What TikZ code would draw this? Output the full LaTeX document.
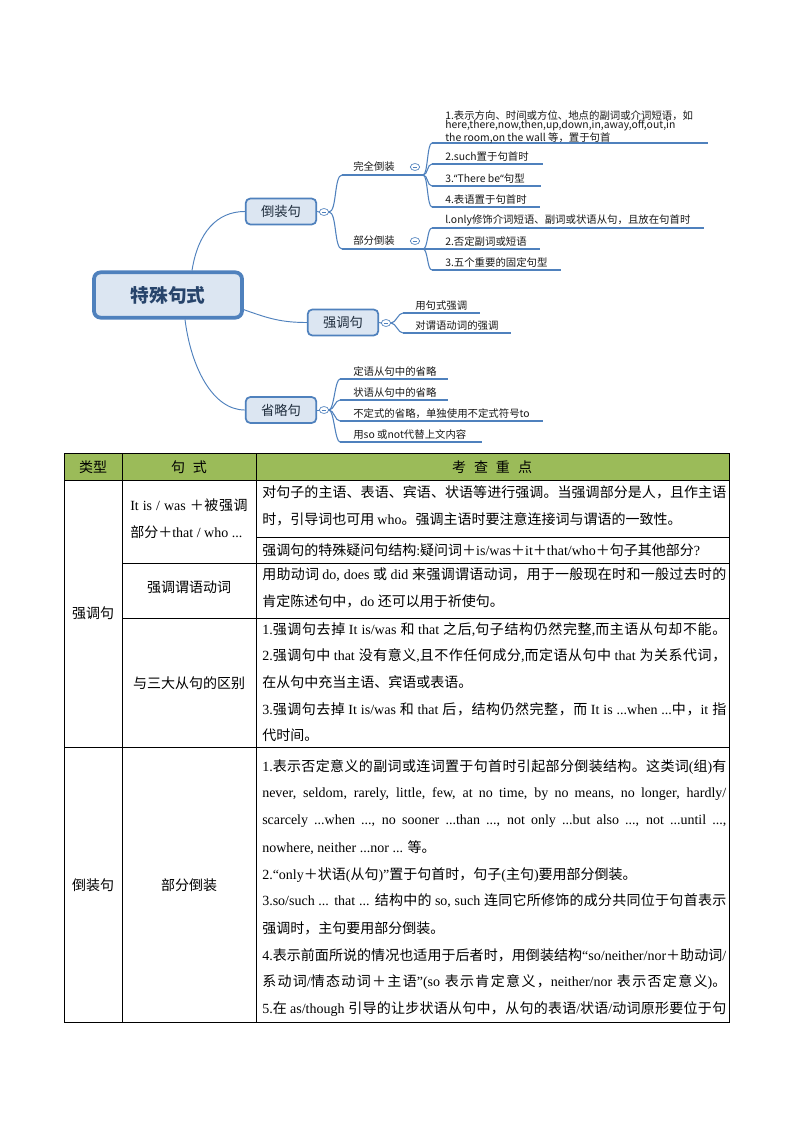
\documentclass[tikz,border=0pt]{standalone}
\usepackage{fontspec}
\setmainfont{Liberation Serif}
\newfontfamily\cjk{Noto Sans CJK SC}
\newfontfamily\lat{Liberation Serif}
\newfontfamily\mmfont{Noto Sans CJK SC}
\newfontfamily\mmlat{Noto Sans}
\usetikzlibrary{shapes.geometric}

% character classes for automatic CJK / Latin font switching
\newcount\cjkc
\def\setcjkrange#1#2#3{\cjkc=#1\relax\loop\XeTeXcharclass\cjkc=#3\relax\advance\cjkc by 1\relax\ifnum\cjkc<#2\relax\repeat}
\setcjkrange{"4E00}{"A000}{1}
\setcjkrange{"3000}{"3040}{1}
\setcjkrange{"FF00}{"FFF0}{1}
\setcjkrange{"2010}{"2030}{0}
\XeTeXinterchartoks 0 1 = {\cjk}
\XeTeXinterchartoks 4095 1 = {\cjk}
\XeTeXinterchartoks 2 1 = {\cjk}
\XeTeXinterchartoks 3 1 = {\cjk}
\XeTeXinterchartoks 1 1 = {\hskip 0pt plus 1.5pt\relax}
\XeTeXinterchartoks 1 0 = {\lat}
\XeTeXinterchartoks 4095 0 = {\lat}
\XeTeXinterchartoks 2 0 = {\lat}
\XeTeXinterchartoks 3 0 = {\lat}

\definecolor{mmblue}{HTML}{4F81BD}
\definecolor{mmfill}{HTML}{DCE6F2}
\definecolor{roottext}{HTML}{27446B}
\definecolor{boxtext}{HTML}{1F2D3D}
\definecolor{hdr}{HTML}{9BBB59}

\def\tbfont{\XeTeXinterchartokenstate=1 \lat\fontsize{10.5}{13}\selectfont}
\def\mmsmall{\XeTeXinterchartokenstate=0 \mmfont\fontsize{7.8}{7.2}\selectfont}
\def\rootfont{\XeTeXinterchartokenstate=0 \mmfont\bfseries\fontsize{14}{16}\selectfont}
\def\boxfont{\XeTeXinterchartokenstate=0 \mmfont\fontsize{10}{12}\selectfont}
\newcommand\jl[1]{\makebox[348pt][s]{#1}}

\tikzset{
  rootbox/.style={draw=mmblue, line width=2.8pt, fill=mmfill, rounded corners=5pt,
    minimum width=111pt, minimum height=34pt, inner sep=0pt, text=roottext,
    font=\rootfont},
  box/.style={draw=mmblue, line width=1.3pt, fill=mmfill, rounded corners=3.5pt,
    minimum width=53pt, minimum height=19.5pt, inner sep=0pt, text=boxtext,
    font=\boxfont},
  tog/.style={ellipse, draw=mmblue, line width=0.5pt, fill=white, minimum width=7pt,
    minimum height=5.2pt, inner sep=0pt,
    path picture={\draw[mmblue, line width=0.4pt] ([xshift=-1.7pt]path picture bounding box.center) -- ([xshift=1.7pt]path picture bounding box.center);}},
  conn/.style={draw=mmblue, line width=0.7pt},
  fork/.style={draw=mmblue, line width=0.8pt},
  ul/.style={draw=mmblue, line width=1.2pt},
  mmtxt/.style={anchor=west, inner sep=0pt, font=\mmsmall, text=black!90},
  tb/.style={anchor=west, inner sep=0pt, font=\tbfont, text=black},
  tbc/.style={anchor=center, inner sep=0pt, font=\tbfont, text=black},
  grid/.style={draw=black, line width=0.7pt}
}

\newcommand\mmitem[7]{%
  \coordinate (#1s) at (#3,#5);
  \coordinate (#1e) at (#4,#5);
  \draw[fork] (#2) .. controls +(5,0) and +(-5,0) .. (#1s);
  \draw[ul] (#1s) -- (#1e);
  \node[mmtxt] (#1) at (#6,#5-7.5) {#7};}

\begin{document}
\begin{tikzpicture}[x=0.75pt,y=-0.75pt]
\useasboundingbox (0,0) rectangle (794,1123);
\fill[white] (0,0) rectangle (794,1123);

% ---------------- mind map ----------------
\node[rootbox] (r) at (168,295) {特殊句式};
\node[box] (b1) at (281,211.5) {倒装句};
\node[box] (b2) at (343,322.5) {强调句};
\node[box] (b3) at (281,410) {省略句};

\draw[conn] ([xshift=18pt]r.north) .. controls +(6,-38) and +(-28,0) .. (b1.west);
\draw[conn] ([yshift=-11pt]r.east) .. controls +(25,9) and +(-25,0) .. (b2.west);
\draw[conn] ([xshift=12.75pt]r.south) .. controls +(6,48) and +(-32,0) .. (b3.west);

\node[tog] (t1) at (324,212) {};
\node[tog] (t2) at (386,323) {};
\node[tog] (t3) at (324,410) {};
\draw[conn] (b1.east) -- (t1.west);
\draw[conn] (b2.east) -- (t2.west);
\draw[conn] (b3.east) -- (t3.west);

% 倒装句 branch
\coordinate (f1a) at (342,175);
\coordinate (f1b) at (342,249);
\coordinate (k1) at (423,175);
\coordinate (k2) at (423,249);
\draw[fork] (t1.east) .. controls +(8,0) and +(-8,0) .. (f1a);
\draw[fork] (t1.east) .. controls +(8,0) and +(-8,0) .. (f1b);
\draw[ul] (f1a) -- (k1);
\draw[ul] (f1b) -- (k2);
\node[mmtxt] (l1) at (353,167) {完全倒装};
\node[mmtxt] (l2) at (353,241) {部分倒装};
\node[tog] (t4) at (415,167) {};
\node[tog] (t5) at (415,241) {};

% 完全倒装 items
\coordinate (i1s) at (432,143);
\coordinate (i1e) at (708,143);
\draw[fork] (k1) .. controls +(5,0) and +(-5,0) .. (i1s);
\draw[ul] (i1s) -- (i1e);
\node[mmtxt, align=left] (i1) at (445,127) {1.表示方向、时间或方位、地点的副词或介词短语，如\\here,there,now,then,up,down,in,away,off,out,in\\the room,on the wall 等，置于句首};
\mmitem{i2}{k1}{432}{543}{164}{445}{2.such置于句首时}
\mmitem{i3}{k1}{432}{541}{186}{445}{3.{\mmlat“}There be{\mmlat“}句型}
\mmitem{i4}{k1}{432}{540}{207}{445}{4.表语置于句首时}

% 部分倒装 items
\mmitem{j1}{k2}{432}{704}{228}{445}{l.only修饰介词短语、副词或状语从句，且放在句首时}
\mmitem{j2}{k2}{432}{540}{249}{445}{2.否定副词或短语}
\mmitem{j3}{k2}{432}{561}{270}{445}{3.五个重要的固定句型}

% 强调句 items
\mmitem{q1}{t2.east}{403}{480}{313}{415}{用句式强调}
\mmitem{q2}{t2.east}{403}{511}{333}{415}{对谓语动词的强调}

% 省略句 items
\mmitem{p1}{t3.east}{340}{448}{379}{353}{定语从句中的省略}
\mmitem{p2}{t3.east}{340}{448}{400}{353}{状语从句中的省略}
\mmitem{p3}{t3.east}{340}{543}{421}{353}{不定式的省略，单独使用不定式符号to}
\mmitem{p4}{t3.east}{340}{482}{442}{353}{用so 或not代替上文内容}

% ---------------- table ----------------
\fill[hdr] (64,453) rectangle (729,480);
\draw[grid] (64,453) rectangle (729,1022);
\draw[grid] (64,480) -- (729,480);
\draw[grid] (122,453) -- (122,1022);
\draw[grid] (256,453) -- (256,1022);
\draw[grid] (256,537) -- (729,537);
\draw[grid] (122,563) -- (729,563);
\draw[grid] (122,618) -- (729,618);
\draw[grid] (64,747) -- (729,747);

\node[tbc] (h1) at (93,467) {类型};
\node[tbc] (h2) at (189,467) {句\hspace{6pt}式};
\node[tbc] (h3) at (492,467) {考\hspace{6pt}查\hspace{6pt}重\hspace{6pt}点};

\node[tbc] (k1c) at (93,613) {强调句};
\node[tbc] (k2c) at (93,885) {倒装句};

\node[tb] (s1a) at (130,505) {\makebox[88pt][s]{It is / was ＋被强调}};
\node[tb] (s1b) at (130,532) {部分＋that / who ...};
\node[tbc] (s2) at (189,587) {强调谓语动词};
\node[tbc] (s3) at (189,683) {与三大从句的区别};
\node[tbc] (s4) at (189,885) {部分倒装};

% column 3
\node[tb] (a1) at (262,492) {\jl{对句子的主语、表语、宾语、状语等进行强调。当强调部分是人，且作主语}};
\node[tb] (a2) at (262,519) {时，引导词也可用 who。强调主语时要注意连接词与谓语的一致性。};
\node[tb] (a3) at (262,550) {强调句的特殊疑问句结构:疑问词＋is/was＋it＋that/who＋句子其他部分?};

\node[tb] (b1t) at (262,575) {\jl{用助动词 do, does 或 did 来强调谓语动词，用于一般现在时和一般过去时的}};
\node[tb] (b2t) at (262,601) {肯定陈述句中，do 还可以用于祈使句。};

\node[tb] (c1) at (262,630) {\jl{1.强调句去掉 It is/was 和 that 之后,句子结构仍然完整,而主语从句却不能。}};
\node[tb] (c2) at (262,656) {\jl{2.强调句中 that 没有意义,且不作任何成分,而定语从句中 that 为关系代词，}};
\node[tb] (c3) at (262,682) {在从句中充当主语、宾语或表语。};
\node[tb] (c4) at (262,709) {\jl{3.强调句去掉 It is/was 和 that 后，结构仍然完整，而 It is ...when ...中，it 指}};
\node[tb] (c5) at (262,735) {代时间。};

\node[tb] (d1) at (262,767) {\jl{1.表示否定意义的副词或连词置于句首时引起部分倒装结构。这类词(组)有}};
\node[tb] (d2) at (262,794) {\jl{never, seldom, rarely, little, few, at no time, by no means, no longer, hardly/}};
\node[tb] (d3) at (262,821) {\jl{scarcely ...when ..., no sooner ...than ..., not only ...but also ..., not ...until ...,}};
\node[tb] (d4) at (262,848) {nowhere, neither ...nor ... 等。};
\node[tb] (d5) at (262,875) {2.“only＋状语(从句)”置于句首时，句子(主句)要用部分倒装。};
\node[tb] (d6) at (262,901) {\jl{3.so/such ... that ... 结构中的 so, such 连同它所修饰的成分共同位于句首表示}};
\node[tb] (d7) at (262,928) {强调时，主句要用部分倒装。};
\node[tb] (d8) at (262,955) {\jl{4.表示前面所说的情况也适用于后者时，用倒装结构“so/neither/nor＋助动词/}};
\node[tb] (d9) at (262,982) {\jl{系动词/情态动词＋主语”(so 表示肯定意义，neither/nor 表示否定意义)。}};
\node[tb] (d10) at (262,1009) {\jl{5.在 as/though 引导的让步状语从句中，从句的表语/状语/动词原形要位于句}};
\end{tikzpicture}
\end{document}
